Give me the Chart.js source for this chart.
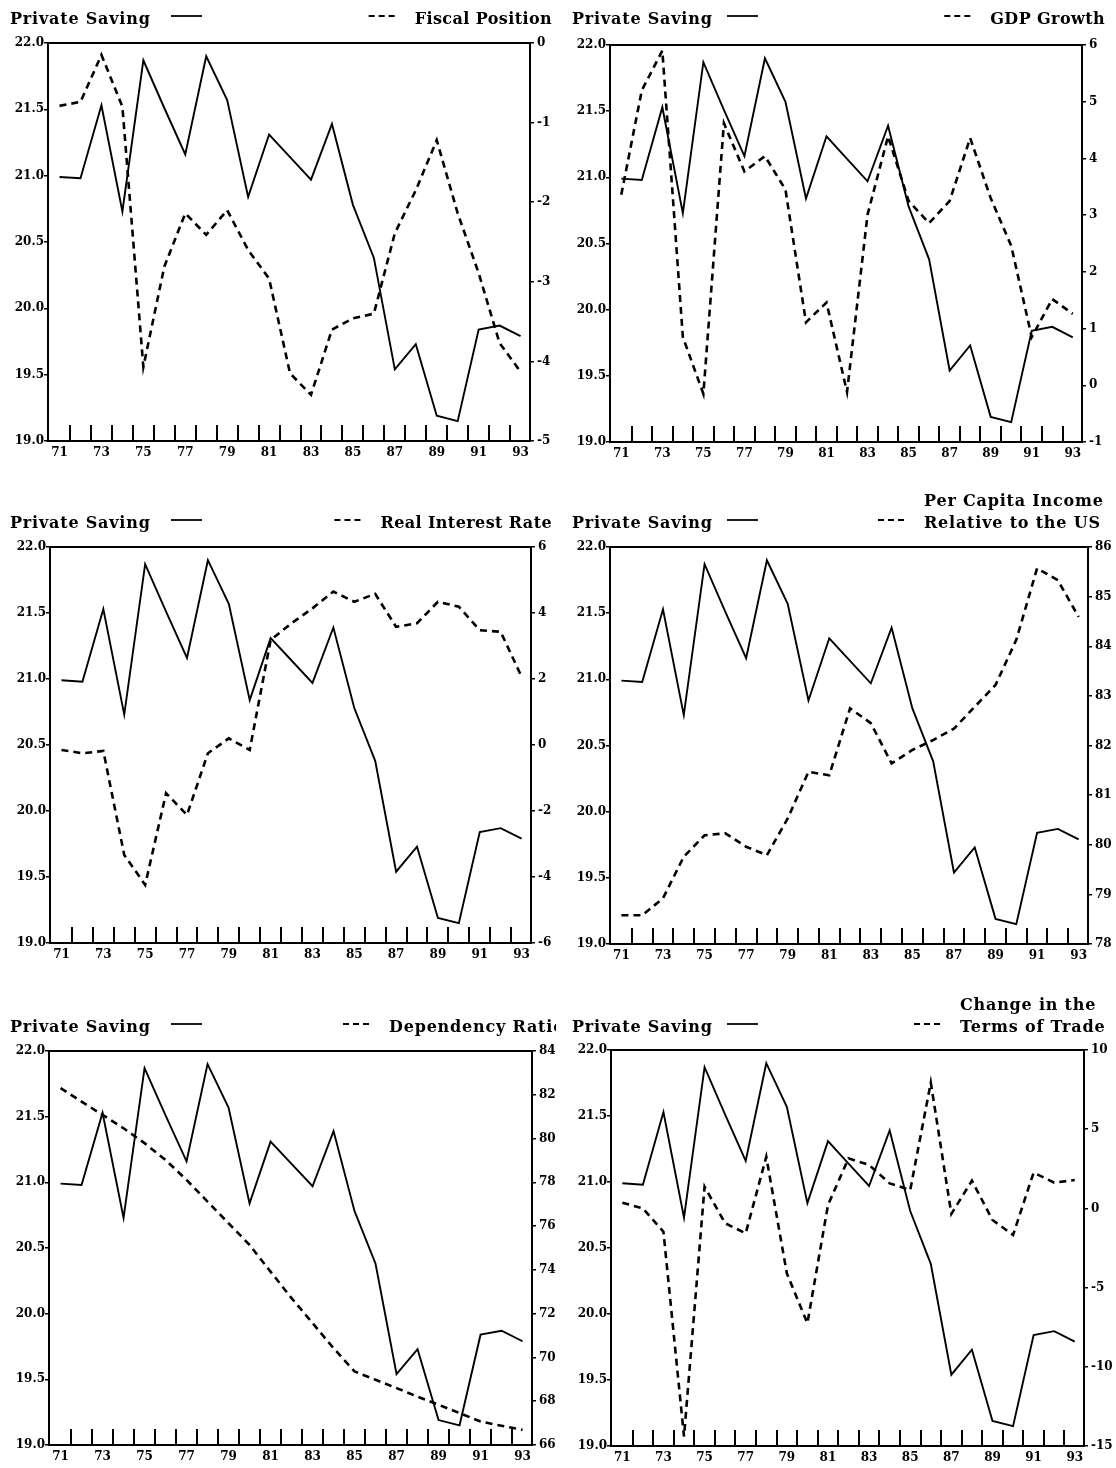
<!DOCTYPE html>
<html>
<head>
<meta charset="utf-8">
<script src="https://cdn.jsdelivr.net/npm/chart.js@4.4.1/dist/chart.umd.min.js"></script>
<style>
  html, body { margin: 0; padding: 0; background: #fff; }
  body { position: relative; width: 1116px; height: 1468px; overflow: hidden; }
  canvas { position: absolute; }
</style>
</head>
<body>
<canvas id="c1"></canvas>
<canvas id="c2"></canvas>
<canvas id="c3"></canvas>
<canvas id="c4"></canvas>
<canvas id="c5"></canvas>
<canvas id="c6"></canvas>
<script>
// years 1971..1993
const years = [71, 72, 73, 74, 75, 76, 77, 78, 79, 80, 81, 82, 83, 84, 85, 86, 87, 88, 89, 90, 91, 92, 93];
const yearLabels = [71, 73, 75, 77, 79, 81, 83, 85, 87, 89, 91, 93];

const privateSaving = [20.99, 20.98, 21.53, 20.73, 21.87, 21.51, 21.16, 21.90, 21.57, 20.84, 21.31, 21.14,
  20.97, 21.39, 20.78, 20.38, 19.54, 19.73, 19.19, 19.15, 19.84, 19.87, 19.79];
const fiscalPosition = [-0.79, -0.74, -0.15, -0.80, -4.07, -2.81, -2.14, -2.41, -2.10, -2.60, -2.96, -4.15,
  -4.42, -3.60, -3.46, -3.40, -2.39, -1.85, -1.22, -2.14, -2.89, -3.77, -4.13];
const gdpGrowth = [3.36, 5.20, 5.90, 0.85, -0.15, 4.62, 3.77, 4.04, 3.45, 1.11, 1.46, -0.12,
  3.01, 4.39, 3.25, 2.86, 3.25, 4.36, 3.30, 2.46, 0.85, 1.52, 1.26];
const realInterestRate = [-0.15, -0.25, -0.18, -3.33, -4.24, -1.46, -2.12, -0.25, 0.20, -0.15, 3.18, 3.69,
  4.14, 4.65, 4.34, 4.58, 3.58, 3.69, 4.34, 4.19, 3.48, 3.43, 2.07];
const perCapitaIncome = [78.58, 78.58, 78.92, 79.76, 80.19, 80.23, 79.96, 79.79, 80.53, 81.47, 81.40, 82.75,
  82.45, 81.64, 81.91, 82.11, 82.34, 82.78, 83.22, 84.13, 85.57, 85.33, 84.59];
const dependencyRatio = [82.30, 81.69, 81.08, 80.47, 79.79, 79.02, 78.11, 77.12, 76.13, 75.14, 73.92, 72.71,
  71.57, 70.42, 69.36, 68.98, 68.60, 68.21, 67.84, 67.46, 67.07, 66.88, 66.69];
const termsOfTrade = [0.36, 0.00, -1.47, -14.4, 1.37, -0.94, -1.57, 3.26, -4.10, -7.25, 0.21, 3.16,
  2.74, 1.58, 1.16, 7.94, -0.35, 1.75, -0.73, -1.68, 2.26, 1.63, 1.79];

// half-year marks drawn up from the bottom axis
const minorTicks = years.slice(0, -1).map(y => y + 0.5);

// textX: left edge of the right-hand legend text, endX: right edge (single lines)
const panels = [
  { id: 'c1', col: 0, row: 0, box: [48, 43, 530, 441], series: fiscalPosition, right: { min: -5, max: 0, step: 1 },
    text: ['Fiscal Position'], endX: 552 },
  { id: 'c2', col: 1, row: 0, box: [610, 45, 1082, 442], series: gdpGrowth, right: { min: -1, max: 6, step: 1 },
    text: ['GDP Growth'], endX: 549 },
  { id: 'c3', col: 0, row: 1, box: [50, 547, 531, 943], series: realInterestRate, right: { min: -6, max: 6, step: 2 },
    text: ['Real Interest Rate'], endX: 552 },
  { id: 'c4', col: 1, row: 1, box: [610, 547, 1088, 944], series: perCapitaIncome, right: { min: 78, max: 86, step: 1 },
    text: ['Per Capita Income', 'Relative to the US'], textX: 368 },
  { id: 'c5', col: 0, row: 2, box: [49, 1051, 532, 1445], series: dependencyRatio, right: { min: 66, max: 84, step: 2 },
    text: ['Dependency Ratio'], textX: 389 },
  { id: 'c6', col: 1, row: 2, box: [611, 1050, 1084, 1446], series: termsOfTrade, right: { min: -15, max: 10, step: 5 },
    text: ['Change in the', 'Terms of Trade'], textX: 404 }
];

const TITLE_FONT = 'bold 16px "DejaVu Serif"';
const TICK_FONT = { family: 'DejaVu Serif', size: 12, weight: 'bold' };

const panelPlugin = {
  id: 'panelDecor',
  beforeDatasetsDraw(chart) {
    const { ctx, chartArea: a, scales: { x } } = chart;
    ctx.save();
    ctx.strokeStyle = '#000';
    ctx.lineWidth = 2;
    ctx.strokeRect(a.left, a.top, a.right - a.left, a.bottom - a.top);
    ctx.beginPath();
    minorTicks.forEach(v => {
      const px = Math.round(x.getPixelForValue(v));
      ctx.moveTo(px, a.bottom);
      ctx.lineTo(px, a.bottom - 16);
    });
    ctx.stroke();
    ctx.restore();
  },
  afterDraw(chart, args, opts) {
    const ctx = chart.ctx;
    const base = 48;
    ctx.save();
    ctx.font = TITLE_FONT;
    ctx.letterSpacing = '0.8px';
    ctx.fillStyle = '#000';
    ctx.strokeStyle = '#000';
    ctx.textBaseline = 'alphabetic';
    ctx.fillText('Private Saving', opts.leftX, base);
    ctx.lineWidth = 1.8;
    ctx.beginPath();
    ctx.moveTo(171, base - 8);
    ctx.lineTo(202, base - 8);
    ctx.stroke();

    const lines = opts.text;
    let startX = opts.textX;
    if (opts.endX !== undefined) {
      ctx.letterSpacing = '0.4px';
      startX = opts.endX - ctx.measureText(lines[0]).width;
    }
    lines.forEach((t, i) => {
      ctx.fillText(t, startX, base - (lines.length - 1 - i) * 22);
    });
    ctx.lineWidth = 2;
    ctx.setLineDash([6, 4]);
    ctx.beginPath();
    ctx.moveTo(startX - 46, base - 8);
    ctx.lineTo(startX - 18, base - 8);
    ctx.stroke();
    ctx.restore();
  }
};

Chart.defaults.color = '#000';
Chart.defaults.font = TICK_FONT;

panels.forEach(p => {
  const colX = p.col === 0 ? 0 : 556;
  const width = p.col === 0 ? 556 : 560;
  const rowTop = p.row * 504 - 24;
  const height = 528;
  const canvas = document.getElementById(p.id);
  canvas.width = width;
  canvas.height = height;
  canvas.style.left = colX + 'px';
  canvas.style.top = rowTop + 'px';
  canvas.style.width = width + 'px';
  canvas.style.height = height + 'px';

  const [bl, bt, br, bb] = p.box;
  const leftW = bl - colX;
  const rightW = colX + width - br;
  const padTop = bt - rowTop;
  const xH = rowTop + height - bb;

  new Chart(canvas, {
    type: 'line',
    data: {
      datasets: [
        {
          label: 'Private Saving',
          data: years.map((y, i) => ({ x: y, y: privateSaving[i] })),
          yAxisID: 'y',
          borderColor: '#000',
          borderWidth: 1.9,
          pointRadius: 0,
          tension: 0
        },
        {
          label: p.text.join(' '),
          data: years.map((y, i) => ({ x: y, y: p.series[i] })),
          yAxisID: 'y2',
          borderColor: '#000',
          borderWidth: 2.6,
          borderDash: [7, 5],
          pointRadius: 0,
          tension: 0
        }
      ]
    },
    options: {
      responsive: false,
      animation: false,
      layout: { padding: { top: padTop, left: 0, right: 0, bottom: 0 } },
      plugins: {
        legend: { display: false },
        tooltip: { enabled: false },
        panelDecor: { leftX: p.col === 0 ? 10 : 16, text: p.text, textX: p.textX, endX: p.endX }
      },
      scales: {
        x: {
          type: 'linear',
          min: 70.45,
          max: 93.45,
          afterBuildTicks: s => { s.ticks = yearLabels.map(v => ({ value: v })); },
          afterFit: s => { s.height = xH; },
          grid: { display: false, drawTicks: false },
          border: { display: false },
          ticks: { padding: 5, maxRotation: 0, autoSkip: false, callback: v => String(v) }
        },
        y: {
          position: 'left',
          min: 19,
          max: 22,
          afterFit: s => { s.width = leftW; },
          grid: { display: true, drawOnChartArea: false, drawTicks: true, tickLength: 4, color: '#000', lineWidth: 1.5 },
          border: { display: false },
          ticks: { stepSize: 0.5, padding: 0, callback: v => Number(v).toFixed(1) }
        },
        y2: {
          position: 'right',
          min: p.right.min,
          max: p.right.max,
          afterFit: s => { s.width = rightW; },
          grid: { display: true, drawOnChartArea: false, drawTicks: true, tickLength: 4, color: '#000', lineWidth: 1.5 },
          border: { display: false },
          ticks: { stepSize: p.right.step, padding: 3, callback: v => String(v) }
        }
      }
    },
    plugins: [panelPlugin]
  });
});
</script>
</body>
</html>
